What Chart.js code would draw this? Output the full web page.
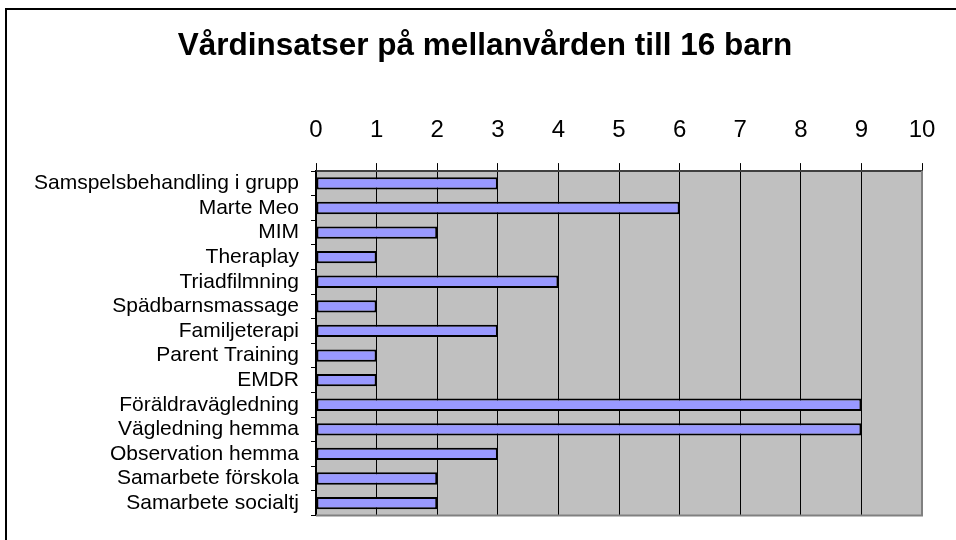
<!DOCTYPE html>
<html>
<head>
<meta charset="utf-8">
<script src="https://cdn.jsdelivr.net/npm/chart.js@4/dist/chart.umd.min.js"></script>
<style>
  html, body { margin: 0; padding: 0; background: #ffffff; }
  #wrap { width: 956px; height: 540px; position: relative; }
</style>
</head>
<body>
<div id="wrap"><canvas id="c"></canvas></div>
<script>
const categories = [
  "Samspelsbehandling i grupp",
  "Marte Meo",
  "MIM",
  "Theraplay",
  "Triadfilmning",
  "Spädbarnsmassage",
  "Familjeterapi",
  "Parent Training",
  "EMDR",
  "Föräldravägledning",
  "Vägledning hemma",
  "Observation hemma",
  "Samarbete förskola",
  "Samarbete socialtj"
];
const values = [3, 6, 2, 1, 4, 1, 3, 1, 1, 9, 9, 3, 2, 2];
const chartTitle = "Vårdinsatser på mellanvården till 16 barn";
const xMin = 0, xMax = 10, xStep = 1;

const FONT = "'Liberation Sans', Arial, Helvetica, sans-serif";

const decor = {
  id: 'decor',
  beforeDraw(chart) {
    const ctx = chart.ctx, a = chart.chartArea;
    ctx.save();
    ctx.strokeStyle = '#000000';
    ctx.lineWidth = 2;
    ctx.beginPath();
    ctx.moveTo(6, 600);
    ctx.lineTo(6, 9);
    ctx.lineTo(1000, 9);
    ctx.stroke();
    ctx.fillStyle = '#C0C0C0';
    ctx.fillRect(a.left, a.top, a.right - a.left, a.bottom - a.top);
    ctx.restore();
  },
  afterDraw(chart) {
    const ctx = chart.ctx, a = chart.chartArea;
    ctx.save();
    ctx.strokeStyle = '#808080';
    ctx.lineWidth = 2;
    ctx.beginPath();
    ctx.moveTo(a.right, a.top);
    ctx.lineTo(a.right, a.bottom);
    ctx.lineTo(a.left, a.bottom);
    ctx.stroke();
    ctx.restore();
  }
};

new Chart(document.getElementById('c'), {
  type: 'bar',
  data: {
    labels: categories,
    datasets: [{
      data: values,
      backgroundColor: '#9999FF',
      borderColor: '#000000',
      borderWidth: 2,
      borderSkipped: false,
      barPercentage: 0.5,
      categoryPercentage: 1.0
    }]
  },
  options: {
    indexAxis: 'y',
    responsive: true,
    maintainAspectRatio: false,
    animation: false,
    layout: { padding: { left: 14, right: 0, top: 0, bottom: 16 } },
    plugins: {
      legend: { display: false },
      tooltip: { enabled: false },
      title: {
        display: true,
        text: chartTitle,
        color: '#000000',
        font: { family: FONT, size: 31.5, weight: 'bold' },
        padding: { top: 27, bottom: 10 }
      }
    },
    scales: {
      x: {
        position: 'top',
        min: xMin,
        max: xMax,
        ticks: {
          stepSize: xStep,
          color: '#000000',
          font: { family: FONT, size: 24 },
          padding: 18
        },
        grid: {
          color: '#000000',
          lineWidth: 1,
          tickLength: 8,
          drawTicks: true
        },
        border: { color: '#404040', width: 2 },
        afterFit(scale) { scale.height = 96.3; }
      },
      y: {
        ticks: {
          color: '#000000',
          font: { family: FONT, size: 21 },
          padding: 12,
          autoSkip: false
        },
        grid: {
          offset: true,
          drawOnChartArea: false,
          drawTicks: true,
          tickLength: 5,
          color: '#000000'
        },
        border: { color: '#000000', width: 1.5 },
        afterFit(scale) { scale.width = 302; }
      },
      rightMargin: {
        type: 'linear',
        position: 'right',
        display: true,
        ticks: { display: false },
        grid: { display: false, drawTicks: false },
        border: { display: false },
        afterFit(scale) { scale.width = 34; }
      }
    }
  },
  plugins: [decor]
});
</script>
</body>
</html>
